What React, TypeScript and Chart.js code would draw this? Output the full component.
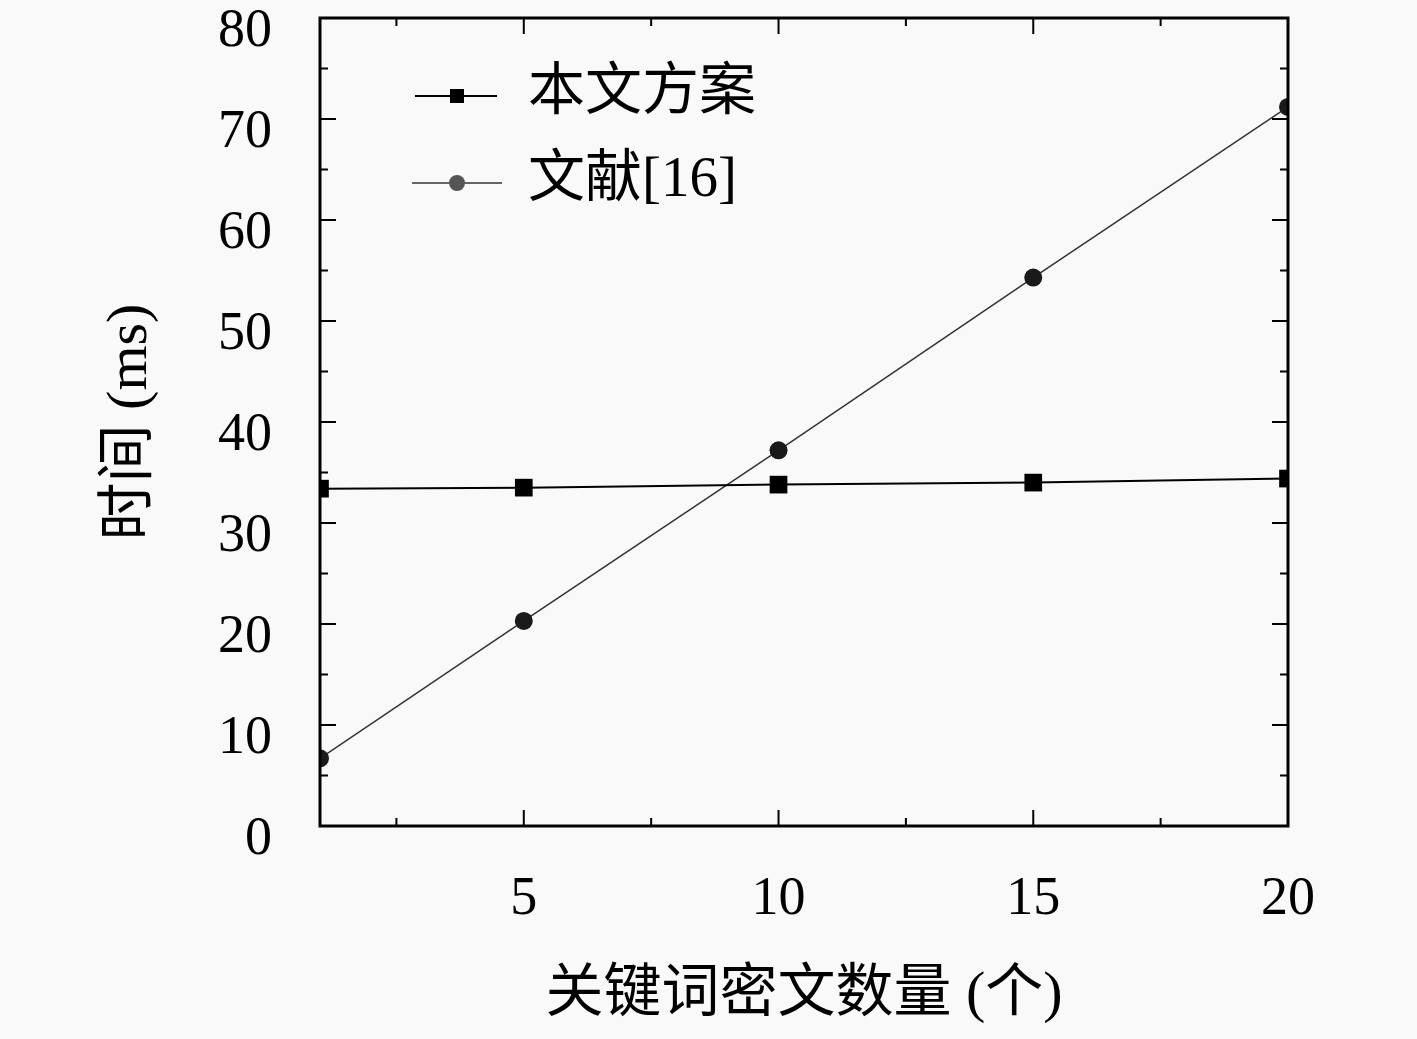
import { useEffect, useRef } from 'react';
import { Chart, registerables, type Plugin } from 'chart.js';

Chart.register(...registerables);

// data
const keywordCounts = [1, 5, 10, 15, 20];
const oursTimes = [33.4, 33.5, 33.8, 34.0, 34.4];
const ref16Times = [6.7, 20.3, 37.2, 54.3, 71.2];
const seriesLabels = ['本文方案', '文献[16]'];
const xTickLabels = [5, 10, 15, 20];
const yTickLabels = [0, 10, 20, 30, 40, 50, 60, 70, 80];
const xAxisTitle = '关键词密文数量 (个)';
const yAxisTitle = '时间 (ms)';

const FONT = "'Liberation Serif', 'DejaVu Serif', 'Noto Sans CJK SC', serif";
const BG = '#f9f9f9';

// background fill
const bgPlugin: Plugin<'line'> = {
  id: 'bg',
  beforeDraw(chart) {
    const { ctx, width, height } = chart;
    ctx.save();
    ctx.fillStyle = BG;
    ctx.fillRect(0, 0, width, height);
    ctx.restore();
  },
};

// box frame with inward ticks on all four sides
const framePlugin: Plugin<'line'> = {
  id: 'frame',
  afterDatasetsDraw(chart) {
    const { ctx, chartArea: a, scales } = chart;
    const xs = scales.x;
    const ys = scales.y;
    ctx.save();
    ctx.strokeStyle = '#000';
    ctx.lineWidth = 2;
    xs.ticks.forEach((t) => {
      const px = xs.getPixelForValue(t.value);
      const len = t.value % 5 === 0 ? 16 : 8;
      ctx.beginPath();
      ctx.moveTo(px, a.bottom);
      ctx.lineTo(px, a.bottom - len);
      ctx.moveTo(px, a.top);
      ctx.lineTo(px, a.top + len);
      ctx.stroke();
    });
    ys.ticks.forEach((t) => {
      const py = ys.getPixelForValue(t.value);
      const len = t.value % 10 === 0 ? 16 : 8;
      ctx.beginPath();
      ctx.moveTo(a.left, py);
      ctx.lineTo(a.left + len, py);
      ctx.moveTo(a.right, py);
      ctx.lineTo(a.right - len, py);
      ctx.stroke();
    });
    ctx.lineWidth = 3;
    ctx.strokeRect(a.left, a.top, a.right - a.left, a.bottom - a.top);
    ctx.restore();
  },
};

// legend drawn inside the plot, top-left
const legendPlugin: Plugin<'line'> = {
  id: 'innerLegend',
  afterDraw(chart) {
    const { ctx, chartArea: a } = chart;
    const rows = [
      { y: a.top + 78, x0: 95, x1: 177 },
      { y: a.top + 165, x0: 92, x1: 182 },
    ];
    ctx.save();
    chart.data.datasets.forEach((ds: any, i) => {
      const r = rows[i];
      ctx.strokeStyle = ds.borderColor;
      ctx.lineWidth = ds.borderWidth;
      ctx.beginPath();
      ctx.moveTo(a.left + r.x0, r.y);
      ctx.lineTo(a.left + r.x1, r.y);
      ctx.stroke();
      ctx.fillStyle = i === 0 ? '#000' : '#555';
      const cx = a.left + 137;
      if (ds.pointStyle === 'rect') {
        ctx.fillRect(cx - 7, r.y - 7, 14, 14);
      } else {
        ctx.beginPath();
        ctx.arc(cx, r.y, 8, 0, Math.PI * 2);
        ctx.fill();
      }
      ctx.fillStyle = '#000';
      ctx.font = `57px ${FONT}`;
      ctx.textBaseline = 'middle';
      ctx.textAlign = 'left';
      ctx.fillText(ds.label, a.left + 208, r.y - 2);
    });
    ctx.restore();
  },
};

const TimeChart = () => {
  const canvasRef = useRef<HTMLCanvasElement>(null);

  useEffect(() => {
    if (!canvasRef.current) return;
    document.body.style.margin = '0';
    document.body.style.background = BG;

    const chart = new Chart(canvasRef.current, {
      type: 'line',
      data: {
        datasets: [
          {
            label: seriesLabels[0],
            data: keywordCounts.map((x, i) => ({ x, y: oursTimes[i] })),
            borderColor: '#000',
            borderWidth: 2,
            pointStyle: 'rect',
            pointRadius: 12.5,
            pointBackgroundColor: '#000',
            pointBorderWidth: 0,
            clip: 0,
          },
          {
            label: seriesLabels[1],
            data: keywordCounts.map((x, i) => ({ x, y: ref16Times[i] })),
            borderColor: '#333',
            borderWidth: 1.5,
            pointStyle: 'circle',
            pointRadius: 9,
            pointBackgroundColor: '#1a1a1a',
            pointBorderWidth: 0,
            clip: 0,
          },
        ],
      },
      options: {
        animation: false,
        responsive: false,
        devicePixelRatio: 1,
        layout: { padding: { left: 0, top: 18, right: 129, bottom: 0 } },
        plugins: {
          legend: { display: false },
          tooltip: { enabled: false },
        },
        scales: {
          x: {
            type: 'linear',
            min: 1,
            max: 20,
            afterFit: (s: any) => {
              s.height = 213;
              s.paddingLeft = 0;
              s.paddingRight = 0;
            },
            grid: { display: false, drawTicks: false },
            border: { display: false },
            ticks: {
              stepSize: 2.5,
              padding: 41,
              color: '#000',
              font: { family: FONT, size: 54 },
              maxRotation: 0,
              autoSkip: false,
              callback: (v) => (xTickLabels.includes(Number(v)) ? String(v) : ''),
            },
            title: {
              display: true,
              text: xAxisTitle,
              color: '#000',
              font: { family: FONT, size: 58 },
              padding: { top: 0, bottom: 8 },
            },
          },
          y: {
            min: 0,
            max: 80,
            afterFit: (s: any) => {
              s.width = 320;
              s.paddingTop = 0;
              s.paddingBottom = 0;
            },
            grid: { display: false, drawTicks: false },
            border: { display: false },
            ticks: {
              stepSize: 5,
              padding: 48,
              labelOffset: 14,
              color: '#000',
              font: { family: FONT, size: 54 },
              autoSkip: false,
              callback: (v) => (yTickLabels.includes(Number(v)) ? String(v) : ''),
            },
            title: {
              display: true,
              text: yAxisTitle,
              color: '#000',
              font: { family: FONT, size: 58 },
              padding: { top: 96, bottom: 0 },
            },
          },
        },
      },
      plugins: [bgPlugin, framePlugin, legendPlugin],
    });

    return () => {
      chart.destroy();
    };
  }, []);

  return (
    <div style={{ width: 1417, height: 1039 }}>
      <canvas ref={canvasRef} width={1417} height={1039} />
    </div>
  );
};

export default function App() {
  return <TimeChart />;
}
